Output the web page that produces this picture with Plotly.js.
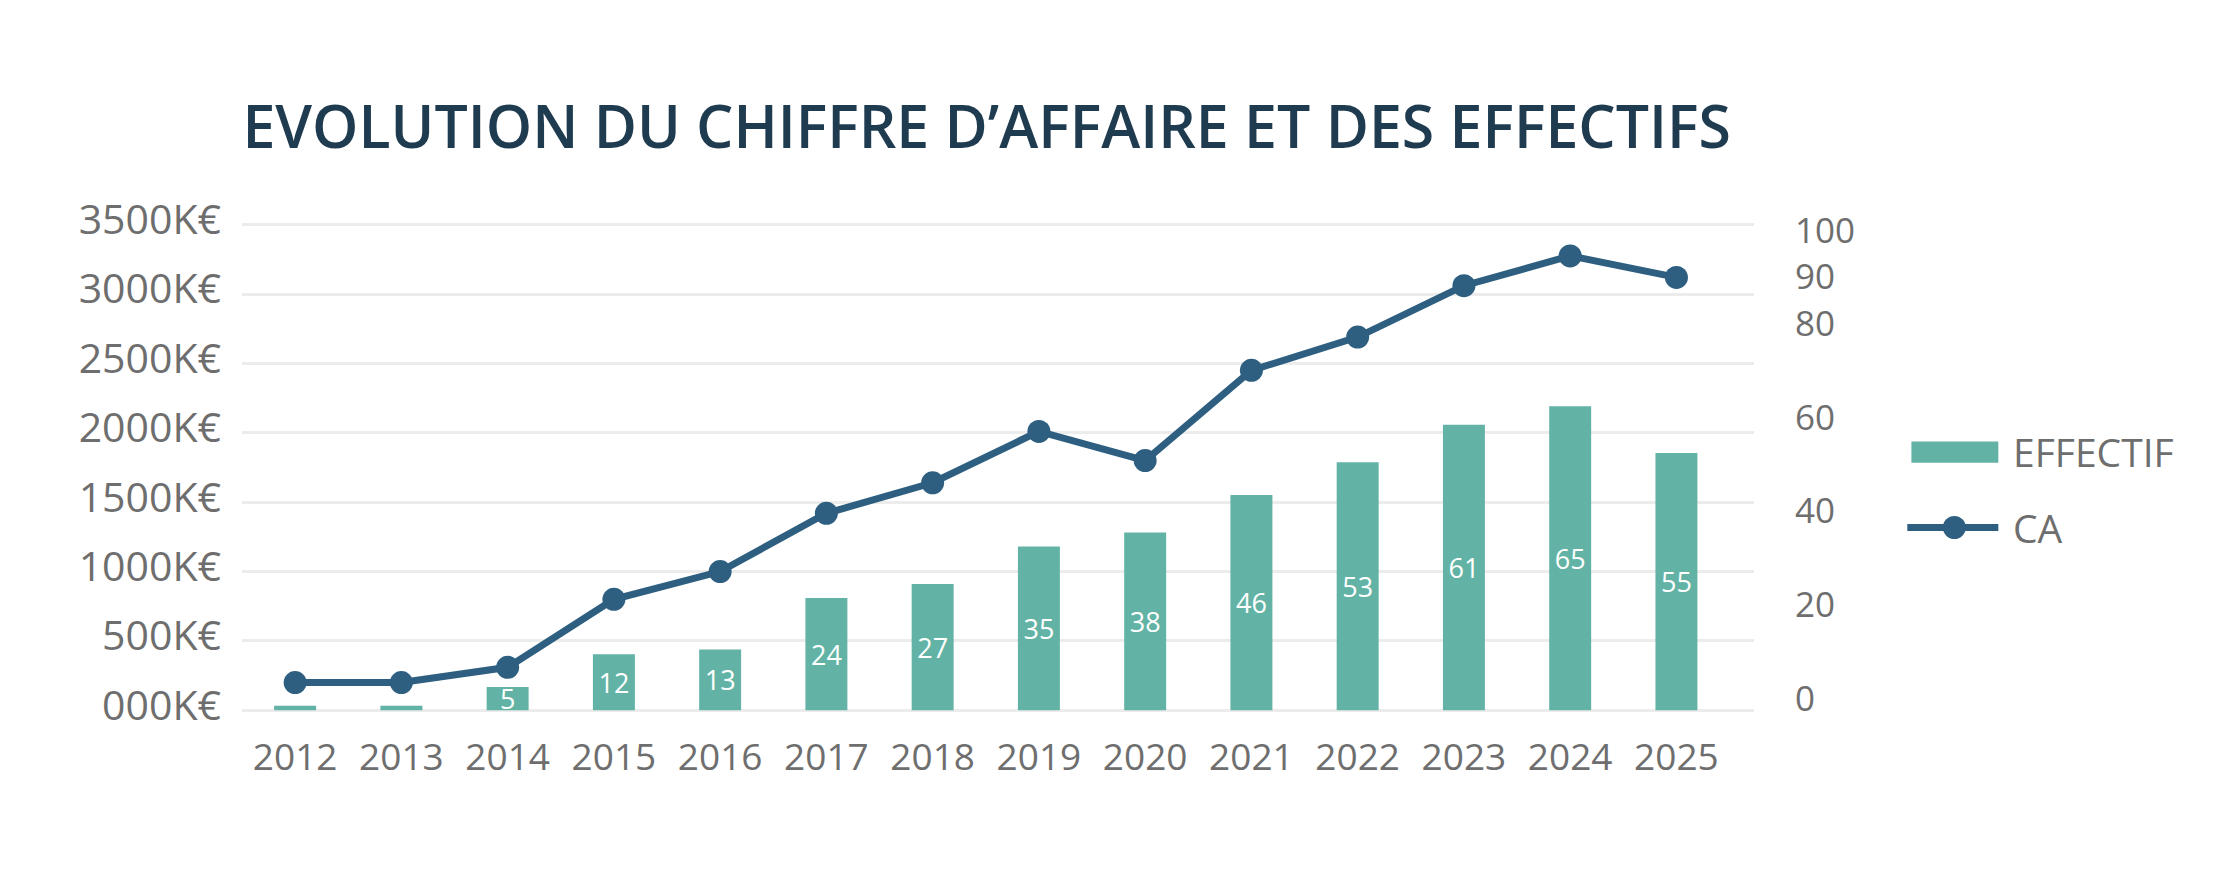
<!DOCTYPE html>
<html>
<head>
<meta charset="utf-8">
<script src="https://cdn.plot.ly/plotly-3.0.1.min.js"></script>
<style>html,body{margin:0;padding:0;background:#fff;}#chart{width:2222px;height:896px;}</style>
</head>
<body>
<div id="chart"></div>
<script>
const years = ['2012','2013','2014','2015','2016','2017','2018','2019','2020','2021','2022','2023','2024','2025'];
const effectif = [1, 1, 5, 12, 13, 24, 27, 35, 38, 46, 53, 61, 65, 55];
const ca = [200, 200, 310, 800, 1000, 1420, 1640, 2010, 1800, 2450, 2690, 3060, 3275, 3120];
const caTickVals = [0, 500, 1000, 1500, 2000, 2500, 3000, 3500];
const caTickText = ['000K€', '500K€', '1000K€', '1500K€', '2000K€', '2500K€', '3000K€', '3500K€'];
const effTickVals = [0, 20, 40, 60, 80, 90, 100];
const seriesNames = ['EFFECTIF', 'CA'];
const titleText = 'EVOLUTION DU CHIFFRE D’AFFAIRE ET DES EFFECTIFS';

const BAR = '#62b3a5', LINE = '#2e5f80', GRAY = '#6e6e6e', GRID = '#ececec';
const FONT = '"Open Sans", "DejaVu Sans", sans-serif';

const traces = [
  {
    type: 'bar', name: seriesNames[0], x: years, y: effectif, yaxis: 'y',
    marker: {color: BAR},
    text: effectif.map(v => v >= 5 ? String(v) : ''),
    textposition: 'inside', insidetextanchor: 'middle', constraintext: 'none', textangle: 0,
    textfont: {family: FONT, size: 27, color: '#ffffff'},
    hoverinfo: 'x+y'
  },
  {
    type: 'scatter', mode: 'lines+markers', name: seriesNames[1], x: years, y: ca, yaxis: 'y2',
    line: {color: LINE, width: 7},
    marker: {color: LINE, size: 23},
    cliponaxis: false
  }
];

const layout = {
  width: 2222, height: 896,
  margin: {l: 242, r: 468, t: 223, b: 184, pad: 0},
  paper_bgcolor: '#ffffff', plot_bgcolor: '#ffffff',
  showlegend: false,
  bargap: 0.605,
  font: {family: FONT, color: GRAY},
  title: {
    text: titleText, xref: 'paper', x: 0.4925, xanchor: 'center',
    yref: 'container', y: 1 - 127/896, yanchor: 'middle',
    font: {family: FONT, size: 59, color: '#1f3b50', weight: 600}
  },
  xaxis: {
    type: 'category', range: [-0.5, 13.73], showgrid: false, zeroline: false, showline: false,
    ticks: '', tickfont: {family: FONT, size: 37, color: GRAY}, ticklabelstandoff: 20
  },
  yaxis: {
    side: 'right', range: [-0.356, 104.13], tickvals: effTickVals, showgrid: false, zeroline: false,
    showline: false, ticks: '', tickfont: {family: FONT, size: 35, color: GRAY},
    ticklabelstandoff: 40, ticklabelshift: -12
  },
  yaxis2: {
    overlaying: 'y', side: 'left', range: [-12, 3512], tickvals: caTickVals, ticktext: caTickText,
    showgrid: true, gridcolor: GRID, gridwidth: 3, zeroline: false, showline: false, ticks: '',
    tickfont: {family: FONT, size: 41, color: GRAY}, ticklabelstandoff: 20, ticklabelshift: -5
  },
  shapes: [
    {type: 'rect', xref: 'paper', yref: 'paper', x0: 1.1041, x1: 1.1616, y0: 0.5099, y1: 0.5532,
     fillcolor: BAR, line: {width: 0}},
    {type: 'line', xref: 'paper', yref: 'paper', x0: 1.1014, x1: 1.1616, y0: 0.3773, y1: 0.3773,
     line: {color: LINE, width: 7}},
    {type: 'circle', xref: 'paper', yref: 'paper', xsizemode: 'pixel', ysizemode: 'pixel',
     xanchor: 1.1325, yanchor: 0.3773, x0: -11.5, x1: 11.5, y0: -11.5, y1: 11.5,
     fillcolor: LINE, line: {width: 0}}
  ],
  annotations: [
    {xref: 'paper', yref: 'paper', x: 1.170, y: 0.532, xanchor: 'left', yanchor: 'middle',
     text: seriesNames[0], showarrow: false, font: {family: FONT, size: 39, color: GRAY}},
    {xref: 'paper', yref: 'paper', x: 1.170, y: 0.377, xanchor: 'left', yanchor: 'middle',
     text: seriesNames[1], showarrow: false, font: {family: FONT, size: 39, color: GRAY}}
  ]
};

Plotly.newPlot('chart', traces, layout, {displayModeBar: false, staticPlot: true});
</script>
</body>
</html>
